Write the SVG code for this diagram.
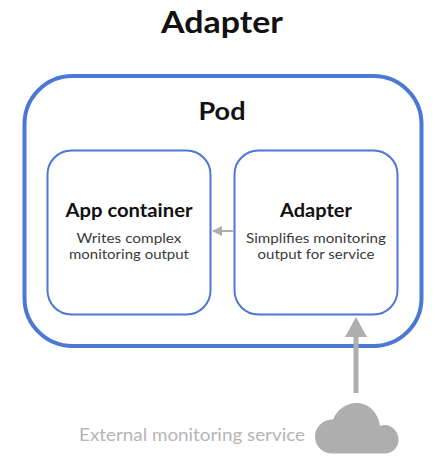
<svg xmlns="http://www.w3.org/2000/svg" width="446" height="472" viewBox="0 0 446 472">
<style>
text{font-family:"Lato","Liberation Sans",sans-serif;text-anchor:middle}
.t{fill:#111;font-weight:700}
.d{fill:#3a3a3a;font-size:13.5px}
.box{fill:#fff;stroke:#4a78d4;stroke-width:2}
</style>
<defs>
<marker id="a1" viewBox="0 0 10 10" refX="9" refY="5" markerWidth="10" markerHeight="10" markerUnits="userSpaceOnUse" orient="auto"><path d="M0 0L10 5L0 10Z" fill="#aeaeae"/></marker>
</defs>
<rect width="446" height="472" fill="#fff"/>
<text class="t" x="222" y="33" font-size="30" textLength="122" lengthAdjust="spacingAndGlyphs">Adapter</text>
<g id="pod">
<rect x="24.500" y="76" width="397" height="270" rx="48" fill="#fff" stroke="#4a78d4" stroke-width="4"/>
<text class="t" x="222" y="120" font-size="24" textLength="47" lengthAdjust="spacingAndGlyphs">Pod</text>
</g>
<g id="app-container">
<rect class="box" x="47.500" y="150.500" width="163" height="164" rx="24"/>
<text class="t" x="129" y="217" font-size="18" textLength="127" lengthAdjust="spacingAndGlyphs">App container</text>
<text class="d" x="129" y="243" textLength="105" lengthAdjust="spacingAndGlyphs">Writes complex</text>
<text class="d" x="129" y="259" textLength="120" lengthAdjust="spacingAndGlyphs">monitoring output</text>
</g>
<g id="adapter">
<rect class="box" x="234.500" y="150.500" width="163" height="164" rx="24"/>
<text class="t" x="316" y="217" font-size="18" textLength="72" lengthAdjust="spacingAndGlyphs">Adapter</text>
<text class="d" x="316" y="243" textLength="140" lengthAdjust="spacingAndGlyphs">Simplifies monitoring</text>
<text class="d" x="316" y="259" textLength="117" lengthAdjust="spacingAndGlyphs">output for service</text>
</g>
<g id="connectors">
<line x1="233" y1="231" x2="213" y2="231" stroke="#aeaeae" stroke-width="2" marker-end="url(#a1)"/>
<line x1="356" y1="393" x2="356" y2="330" stroke="#aeaeae" stroke-width="5"/>
<path d="M356 317L367 337H345Z" fill="#aeaeae"/>
</g>
<g id="external-monitoring-service">
<text x="192" y="441" font-size="17" fill="#b5b5b5" textLength="226" lengthAdjust="spacingAndGlyphs">External monitoring service</text>
<path d="M333 453.500C322 453.500 315 446 315 436.500C315 427 323 419.500 333 419.500C337 410 346 403 356.500 403C369 403 378.500 413 380 426C382 425 384 425 386 425C393 426 398.500 432 398.500 440C398.500 448 392 453.500 385 453.500Z" fill="#aeaeae"/>
</g>
</svg>
